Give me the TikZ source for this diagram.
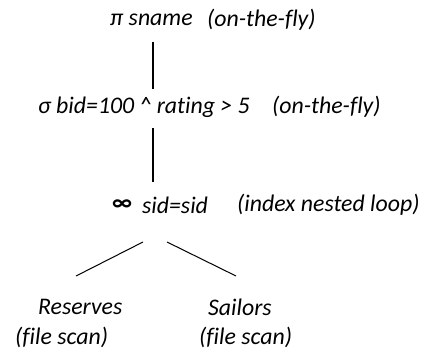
\documentclass[tikz,border=0pt]{standalone}
\usepackage{fontspec}
\setmainfont{Carlito}[Ligatures=NoCommon]
\begin{document}
\begin{tikzpicture}[x=1pt,y=-1pt,
  lbl/.style={anchor=west,inner sep=0pt,font=\fontsize{23.8}{28}\selectfont\itshape},
  thick line/.style={line width=2pt},
  thin line/.style={line width=1pt}]
\useasboundingbox (0,0) rectangle (425,353);
\node[lbl] (pi) at (110,20) {π sname};
\node[lbl] (pifly) at (207,20) {(on-the-fly)};
\node[lbl] (sigma) at (38,107) {σ bid=100 \^{} rating > 5};
\node[lbl] (sigfly) at (272,107) {(on-the-fly)};
\node[lbl] (inf) at (112,205) {\bfseries\upshape ∞};
\node[lbl] (join) at (142,205) {sid=sid};
\node[lbl] (inl) at (237,205) {(index nested loop)};
\node[lbl] (res) at (38,307) {Reserves};
\node[lbl] (resfs) at (15,337) {(file scan)};
\node[lbl] (sail) at (208,307) {Sailors};
\node[lbl] (sailfs) at (199,337) {(file scan)};
\coordinate (a1) at (153,42);
\coordinate (a2) at (153,89);
\coordinate (b1) at (153,128);
\coordinate (b2) at (153,182);
\coordinate (c1) at (143,242);
\coordinate (c2) at (76,276);
\coordinate (d1) at (167,242);
\coordinate (d2) at (236,276);
\draw[thick line] (a1) -- (a2);
\draw[thick line] (b1) -- (b2);
\draw[thin line] (c1) -- (c2);
\draw[thin line] (d1) -- (d2);
\end{tikzpicture}
\end{document}
